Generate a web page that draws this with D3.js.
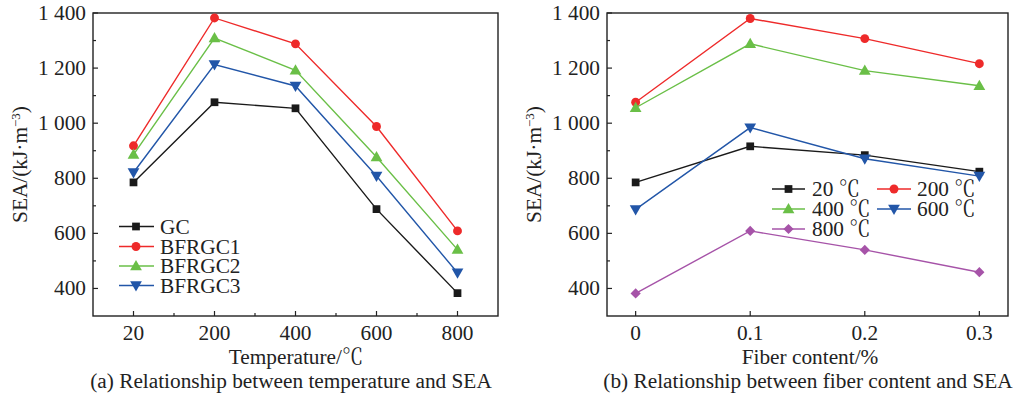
<!DOCTYPE html>
<html>
<head>
    <meta charset="utf-8">
    <style>
        body { margin: 0; background: #fff; }
        .frame { fill: none; stroke: #222; stroke-width: 1.4; }
        .tick-mark { stroke: #222; stroke-width: 1.2; }
    </style>
</head>
<body>
<svg width="1019" height="404"></svg>

<script src="https://d3js.org/d3.v7.min.js"></script>
<script>
    // panel (a): SEA against temperature
    let temps = ["20", "200", "400", "600", "800"];
    let mixNames = ["GC", "BFRGC1", "BFRGC2", "BFRGC3"];
    let gc = [785, 1076, 1054, 688, 383];
    let bfrgc1 = [918, 1382, 1288, 988, 609];
    let bfrgc2 = [886, 1309, 1192, 877, 541];
    let bfrgc3 = [821, 1213, 1135, 808, 457];

    // panel (b): SEA against fiber content
    let fiber = [0, 0.1, 0.2, 0.3];
    let tempNames = ["20", "200", "400", "600", "800"];
    let t20 = [785, 916, 884, 824];
    let t200 = [1076, 1380, 1307, 1216];
    let t400 = [1056, 1288, 1191, 1136];
    let t600 = [687, 984, 871, 808];
    let t800 = [382, 609, 540, 459];

    let yTicks = [400, 600, 800, 1000, 1200, 1400];
    let yMinor = [500, 700, 900, 1100, 1300];
    let xTicksB = [0, 0.1, 0.2, 0.3];

    let colors = ["#1a1a1a", "#ee2a2a", "#6abf47", "#2256a8", "#a653a8"];
    let symbols = ["square", "circle", "tri-up", "tri-down", "diamond"];

    let svg = d3.select("svg");

    let plotTop = 13, plotBottom = 316;
    let y = d3.scaleLinear().domain([300, 1400]).range([plotBottom, plotTop]);
    let fmt = v => v >= 1000 ? Math.floor(v / 1000) + " " + d3.format("03d")(v % 1000) : String(v);

    function addText(g) {
        return g.append("text")
            .style("font-family", "'Liberation Serif'")
            .style("font-size", "21.3px")
            .style("fill", "#222");
    }

    function marker(g, k, cx, cy) {
        let s = symbols[k], path, rot = 0, dy = 0;
        if (s === "square") path = d3.symbol().type(d3.symbolSquare).size(60)();
        if (s === "circle") path = d3.symbol().type(d3.symbolCircle).size(62)();
        if (s === "tri-up") { path = d3.symbol().type(d3.symbolTriangle).size(60)(); dy = 0.8; }
        if (s === "tri-down") { path = d3.symbol().type(d3.symbolTriangle).size(60)(); rot = 180; dy = -0.8; }
        if (s === "diamond") { path = d3.symbol().type(d3.symbolSquare).size(52)(); rot = 45; }
        g.append("path").attr("d", path)
            .attr("transform", `translate(${cx},${cy + dy}) rotate(${rot})`)
            .attr("fill", colors[k]);
    }

    function drawFrame(left, right, xTickPos, xMinorPos, xLabels, yLabelX) {
        let g = svg.append("g");
        g.append("rect").attr("class", "frame")
            .attr("x", left).attr("y", plotTop).attr("width", right - left).attr("height", plotBottom - plotTop);

        yTicks.forEach(v => {
            g.append("line").attr("class", "tick-mark")
                .attr("x1", left).attr("x2", left + 5).attr("y1", y(v)).attr("y2", y(v));
            addText(g).attr("x", left - 7).attr("y", y(v) + 7)
                .attr("text-anchor", "end").text(fmt(v));
        });
        yMinor.forEach(v => {
            g.append("line").attr("class", "tick-mark")
                .attr("x1", left).attr("x2", left + 3).attr("y1", y(v)).attr("y2", y(v));
        });
        xTickPos.forEach((px, i) => {
            g.append("line").attr("class", "tick-mark")
                .attr("x1", px).attr("x2", px).attr("y1", plotBottom).attr("y2", plotBottom - 5);
            addText(g).attr("x", px).attr("y", plotBottom + 24)
                .attr("text-anchor", "middle").text(xLabels[i]);
        });
        xMinorPos.forEach(px => {
            g.append("line").attr("class", "tick-mark")
                .attr("x1", px).attr("x2", px).attr("y1", plotBottom).attr("y2", plotBottom - 3);
        });

        let yl = addText(g)
            .attr("transform", `translate(${yLabelX},${(plotTop + plotBottom) / 2}) rotate(-90)`)
            .attr("text-anchor", "middle");
        yl.append("tspan").text("SEA/(kJ·m");
        yl.append("tspan").attr("dy", -7).style("font-size", "13px").text("−3");
        yl.append("tspan").attr("dy", 7).text(")");
        return g;
    }

    function drawSeries(g, xs, vals, k) {
        let line = d3.line().x((d, i) => xs[i]).y(d => y(d));
        g.append("path").attr("d", line(vals))
            .attr("fill", "none").attr("stroke", colors[k]).attr("stroke-width", 1.4);
        vals.forEach((v, i) => marker(g, k, xs[i], y(v)));
    }

    // text with a ℃ sign taken from a CJK serif face
    function degText(t, before) {
        t.append("tspan").text(before);
        t.append("tspan").style("font-family", "'Noto Serif CJK SC'").text("℃");
        return t;
    }

    // ---- panel (a)
    let xa = d3.scalePoint().domain(temps).range([93, 498]).padding(0.5);
    let xaPos = temps.map(t => xa(t));
    let xaMinor = d3.pairs(xaPos).map(p => (p[0] + p[1]) / 2);
    let ga = drawFrame(93, 498, xaPos, xaMinor, temps, 27);
    degText(addText(ga).attr("x", 296).attr("y", 364).attr("text-anchor", "middle"), "Temperature/");
    addText(ga).attr("x", 291).attr("y", 388).attr("text-anchor", "middle")
        .text("(a) Relationship between temperature and SEA");

    [gc, bfrgc1, bfrgc2, bfrgc3].forEach((s, k) => drawSeries(ga, xaPos, s, k));

    let legA = [226.5, 246.5, 266, 285.5];
    mixNames.forEach((n, k) => {
        ga.append("line").attr("x1", 119).attr("x2", 154).attr("y1", legA[k]).attr("y2", legA[k])
            .attr("stroke", colors[k]).attr("stroke-width", 1.4);
        marker(ga, k, 136, legA[k]);
        addText(ga).attr("x", 160).attr("y", legA[k] + 7).text(n);
    });

    // ---- panel (b)
    let xb = d3.scaleLinear().domain([-0.025, 0.325]).range([607, 1008]);
    let xbPos = xTicksB.map(v => xb(v));
    let gb = drawFrame(607, 1008, xbPos, [], xTicksB.map(v => String(v)), 541);
    addText(gb).attr("x", 810).attr("y", 364).attr("text-anchor", "middle").text("Fiber content/%");
    addText(gb).attr("x", 808).attr("y", 388).attr("text-anchor", "middle")
        .text("(b) Relationship between fiber content and SEA");

    let fiberPos = fiber.map(v => xb(v));
    [t20, t200, t400, t600, t800].forEach((s, k) => drawSeries(gb, fiberPos, s, k));

    let legCols = [{ x1: 772, x2: 805, m: 788.5, t: 812 }, { x1: 877, x2: 911, m: 894, t: 917 }];
    let legRows = [189, 209, 229];
    tempNames.forEach((n, k) => {
        let c = legCols[k % 2], ry = legRows[Math.floor(k / 2)];
        gb.append("line").attr("x1", c.x1).attr("x2", c.x2).attr("y1", ry).attr("y2", ry)
            .attr("stroke", colors[k]).attr("stroke-width", 1.4);
        marker(gb, k, c.m, ry);
        degText(addText(gb).attr("x", c.t).attr("y", ry + 7), n + " ");
    });
</script>
</body>
</html>
